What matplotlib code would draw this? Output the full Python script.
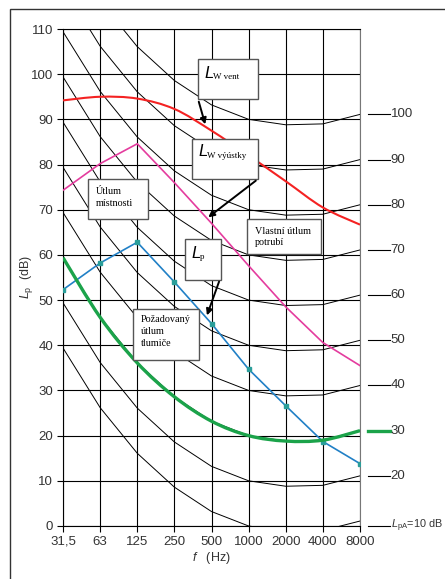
import matplotlib
matplotlib.use("Agg")
import matplotlib.pyplot as plt
import matplotlib.transforms as mtransforms
from matplotlib.patches import Rectangle, FancyArrowPatch, PathPatch
from matplotlib.path import Path
import numpy as np

# --- data -----------------------------------------------------------------
freqs = ["31,5", "63", "125", "250", "500", "1000", "2000", "4000", "8000"]
# A-weighting correction per octave band [dB]
a_weight = [-39.4, -26.2, -16.1, -8.6, -3.2, 0.0, 1.2, 1.0, -1.1]
# A-weighted levels of the background curves (value at 1 kHz)
levels = [0, 10, 20, 30, 40, 50, 60, 70, 80, 90]
level_labels = ["10", "20", "30", "40", "50", "60", "70", "80", "90", "100"]

lw_vent = [94.2, 95.0, 94.6, 92.3, 87.5, 82.0, 76.3, 70.5, 66.7]
lw_vyustky = [74.3, 80.2, 84.6, 76.0, 67.0, 57.6, 48.5, 40.6, 35.5]
lp = [52.3, 58.2, 62.8, 54.0, 44.8, 34.7, 26.6, 18.7, 13.8]
pozadovany = [59.4, 46.2, 36.1, 28.6, 23.2, 20.0, 18.8, 19.0, 21.1]
green_level = 20

W, H = 445, 579
plt.rcParams['font.family'] = ['Liberation Sans Narrow', 'Liberation Sans', 'DejaVu Sans']
plt.rcParams['mathtext.fontset'] = 'custom'
plt.rcParams['mathtext.it'] = 'Liberation Sans:italic'
plt.rcParams['mathtext.rm'] = 'Liberation Sans'

fig = plt.figure(figsize=(W / 100, H / 100), dpi=100)
ax = fig.add_axes([63 / W, 1 - 526 / H, 297 / W, 497 / H])


def fx(px):
    return px / W


def fy(py):
    return 1 - py / H


def smooth_line(ax, x, y, **kw):
    # Catmull-Rom style bezier through the points (like spreadsheet smoothing)
    pts = np.column_stack([x, y]).astype(float)
    verts = [pts[0]]
    codes = [Path.MOVETO]
    n = len(pts)
    for i in range(n - 1):
        p0 = pts[max(i - 1, 0)]
        p1 = pts[i]
        p2 = pts[i + 1]
        p3 = pts[min(i + 2, n - 1)]
        c1 = p1 + (p2 - p0) / 6.0
        c2 = p2 - (p3 - p1) / 6.0
        verts += [c1, c2, p2]
        codes += [Path.CURVE4] * 3
    ax.add_patch(PathPatch(Path(verts, codes), fill=False, **kw))


x = np.arange(len(freqs))

# grid
for xi in x:
    ax.axvline(xi, color="black", lw=0.8, zorder=1)
for yi in range(0, 111, 10):
    ax.axhline(yi, color="black", lw=0.8, zorder=1)

# equal A-level curves
for lev in levels:
    ax.plot(x, lev - np.array(a_weight), color="black", lw=0.7, zorder=2)

smooth_line(ax, x, lw_vent, edgecolor="#F42222", lw=1.5, zorder=4)
ax.plot(x, lw_vyustky, color="#E43C9E", lw=1.2, zorder=4)
ax.plot(x, lp, color="#2180C6", lw=1.2, zorder=4, marker="s", ms=2.2,
        mfc="#2A9E9A", mec="#2A9E9A")
smooth_line(ax, x, pozadovany, edgecolor="#1BA34A", lw=2.4, zorder=5)

ax.set_xlim(0, len(freqs) - 1)
ax.set_ylim(0, 110)
ax.set_xticks(x)
ax.set_xticklabels(freqs)
ax.set_yticks(range(0, 111, 10))
ax.tick_params(direction="out", length=4, width=0.8, labelsize=9.5, colors="black",
               labelcolor="#333333", pad=3)
for s in ax.spines.values():
    s.set_linewidth(0.8)
ax.spines["right"].set_color("#777777")

ax.set_xlabel(r"$f$   (Hz)", fontsize=9, color="#333333", labelpad=2)
ax.set_ylabel(r"$L_{\rm p}$  (dB)", fontsize=9, color="#333333")
ax.yaxis.set_label_coords(-0.095, 0.5)

# labels of the curves on the right side
trans = mtransforms.blended_transform_factory(ax.transAxes, ax.transData)
for lev, lab in zip(levels, level_labels):
    yl = lev - a_weight[-1] if lev > 0 else 0
    green = lev == green_level
    ax.plot([1.027, 1.10], [yl, yl], transform=trans, clip_on=False,
            color="#1BA34A" if green else "black", lw=2.4 if green else 0.8)
    if lev > 0:
        ax.text(1.103, yl, lab, transform=trans, va="center", ha="left",
                fontsize=9.5, color="#333333")
    else:
        ax.text(1.103, yl, r"$L_{\rm pA}$=10 dB", transform=trans, va="center",
                ha="left", fontsize=7.8, color="#333333")

# outer frame
fig.add_artist(Rectangle((fx(10), -0.1), 1.2, fy(9) + 0.1, transform=fig.transFigure,
                         fill=False, lw=1.0, edgecolor="#333333"))


def box(x0, y0, x1, y1):
    fig.add_artist(Rectangle((fx(x0), fy(y1)), fx(x1) - fx(x0), fy(y0) - fy(y1),
                             transform=fig.transFigure, facecolor="white",
                             edgecolor="#555555", lw=1.0, zorder=6))


def arrow(x0, y0, x1, y1):
    fig.add_artist(FancyArrowPatch((fx(x0), fy(y0)), (fx(x1), fy(y1)),
                                   transform=fig.transFigure, arrowstyle="-|>",
                                   mutation_scale=9, lw=1.4, color="black", zorder=7))


def sym(xp, yp, sub):
    fig.text(fx(xp), fy(yp), "L", fontsize=12, style="italic", family="Liberation Sans",
             va="center", ha="left", zorder=8)
    fig.text(fx(xp + 9), fy(yp + 4), sub, fontsize=6.5, family="Liberation Serif",
             va="center", ha="left", zorder=8)


def note(xp, yp, lines, step):
    for i, line in enumerate(lines):
        fig.text(fx(xp), fy(yp + i * step), line, fontsize=7.3, family="Liberation Serif",
                 va="center", ha="left", zorder=8)


box(198, 59, 258, 99)
sym(204, 73, "W vent")
box(192, 139, 258, 179)
sym(198, 152, "W výústky")
box(88, 179, 148, 219)
note(96, 191, ["Útlum", "místnosti"], 12)
box(185, 239, 221, 280)
sym(191, 253, "p")
box(247, 219, 321, 254)
note(255, 232, ["Vlastní útlum", "potrubí"], 11)
box(133, 309, 199, 360)
note(141, 320, ["Požadovaný", "útlum", "tlumiče"], 12)

arrow(198, 99, 206, 127)
arrow(258, 179, 206, 219)
arrow(220, 279, 206, 318)

fig.savefig("out.png", dpi=100)
